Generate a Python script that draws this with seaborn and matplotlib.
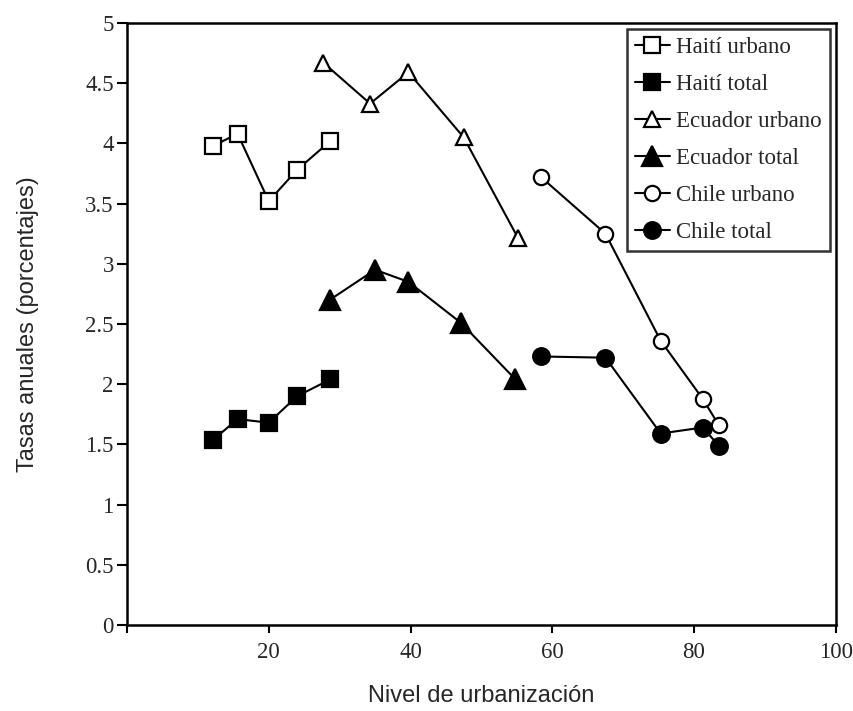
import matplotlib
matplotlib.use("Agg")
import matplotlib.pyplot as plt
import seaborn as sns
import pandas as pd

# Urbanization level (%) and annual growth rates (%) per country
haiti_x = [12.2, 15.6, 20.0, 24.0, 28.7]
haiti_urbano = [3.98, 4.08, 3.52, 3.78, 4.02]
haiti_total = [1.54, 1.71, 1.68, 1.90, 2.04]

ecuador_urb_x = [27.7, 34.3, 39.7, 47.5, 55.2]
ecuador_urbano = [4.67, 4.33, 4.59, 4.05, 3.21]
ecuador_tot_x = [28.6, 35.0, 39.7, 47.1, 54.8]
ecuador_total = [2.70, 2.95, 2.85, 2.51, 2.04]

chile_x = [58.4, 67.5, 75.3, 81.2, 83.5]
chile_urbano = [3.72, 3.25, 2.36, 1.88, 1.66]
chile_total = [2.23, 2.22, 1.59, 1.64, 1.49]

x_ticks = [0, 20, 40, 60, 80, 100]
x_tick_labels = ["", "20", "40", "60", "80", "100"]
y_ticks = [0, 0.5, 1, 1.5, 2, 2.5, 3, 3.5, 4, 4.5, 5]
y_tick_labels = ["0", "0.5", "1", "1.5", "2", "2.5", "3", "3.5", "4", "4.5", "5"]

series = [
    ("Haití urbano", haiti_x, haiti_urbano, "s", False, 11),
    ("Haití total", haiti_x, haiti_total, "s", True, 11),
    ("Ecuador urbano", ecuador_urb_x, ecuador_urbano, "^", False, 12),
    ("Ecuador total", ecuador_tot_x, ecuador_total, "^", True, 14),
    ("Chile urbano", chile_x, chile_urbano, "o", False, 11),
    ("Chile total", chile_x, chile_total, "o", True, 12),
]

sns.set_style("ticks")
serif = ["Liberation Serif", "DejaVu Serif"]
plt.rcParams["font.family"] = ["Liberation Sans", "DejaVu Sans"]

fig = plt.figure(figsize=(8.54, 7.11), dpi=100)
ax = fig.add_axes([0.1487, 0.121, 0.830, 0.8467])

for name, xs, ys, mk, filled, ms in series:
    df = pd.DataFrame({"x": xs, "y": ys})
    sns.lineplot(
        data=df, x="x", y="y", ax=ax, color="black", linewidth=1.5,
        marker=mk, markersize=ms,
        markerfacecolor="black" if filled else "white",
        markeredgecolor="black", markeredgewidth=1.6,
        label=name, sort=False, estimator=None,
    )

ax.set_xlim(0, 100)
ax.set_ylim(0, 5)
ax.set_xticks(x_ticks)
ax.set_xticklabels(x_tick_labels, fontfamily=serif, fontsize=16.5)
ax.set_yticks(y_ticks)
ax.set_yticklabels(y_tick_labels, fontfamily=serif, fontsize=16.5)
ax.tick_params(axis="y", direction="out", length=7.5, width=1.5, color="black", pad=2)
ax.tick_params(axis="x", direction="out", length=6, width=1.5, color="black", pad=6)

for side in ["left", "right", "top", "bottom"]:
    ax.spines[side].set_visible(True)
    ax.spines[side].set_linewidth(1.8)
    ax.spines[side].set_color("black")

ax.set_xlabel("Nivel de urbanización", fontsize=17, labelpad=16)
ax.set_ylabel("Tasas anuales (porcentajes)", fontsize=17, labelpad=33)

leg = ax.legend(loc="upper right", borderaxespad=0.25, frameon=True, fancybox=False,
                prop={"family": serif, "size": 16.5}, handlelength=1.5,
                handletextpad=0.3, labelspacing=0.7, borderpad=0.35)
leg.get_frame().set_edgecolor("black")
leg.get_frame().set_linewidth(1.8)

fig.savefig("out.png", dpi=100)
